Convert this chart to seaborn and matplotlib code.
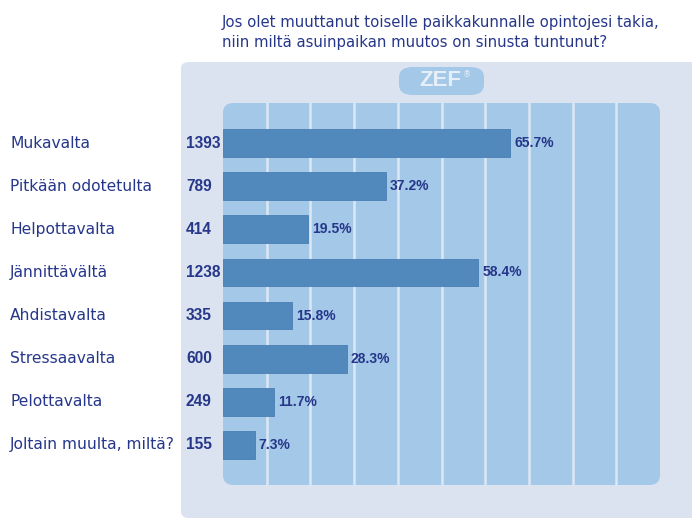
import numpy as np
import pandas as pd
import seaborn as sns
import matplotlib.pyplot as plt
from matplotlib.patches import FancyBboxPatch

# data
categories = ['Mukavalta', 'Pitkään odotetulta', 'Helpottavalta', 'Jännittävältä',
              'Ahdistavalta', 'Stressaavalta', 'Pelottavalta', 'Joltain muulta, miltä?']
counts = [1393, 789, 414, 1238, 335, 600, 249, 155]
percents = [65.7, 37.2, 19.5, 58.4, 15.8, 28.3, 11.7, 7.3]
title_lines = ['Jos olet muuttanut toiselle paikkakunnalle opintojesi takia,',
               'niin miltä asuinpaikan muutos on sinusta tuntunut?']

plt.rcParams['font.family'] = ['DejaVu Sans']
arial = ['Liberation Sans', 'DejaVu Sans']

text_col = '#26378a'
bar_col = '#5189bd'
inner_col = '#a3c8e8'
outer_col = '#dbe2f0'

df = pd.DataFrame({'category': categories, 'count': counts, 'percent': percents})

W, H = 692, 518
fig = plt.figure(figsize=(W / 100, H / 100), dpi=100)
fig.patch.set_facecolor('white')

# outer light panel
fig.patches.append(FancyBboxPatch((181 / W, 0), (W + 20 - 181) / W, (H - 62) / H,
                                  boxstyle='round,pad=0,rounding_size=0.012',
                                  transform=fig.transFigure, facecolor=outer_col,
                                  edgecolor='none', zorder=-2))
# ZEF pill
fig.patches.append(FancyBboxPatch((399 / W, (H - 95) / H), 85 / W, 28 / H,
                                  boxstyle='round,pad=0,rounding_size=0.02',
                                  transform=fig.transFigure, facecolor=inner_col,
                                  edgecolor='none', zorder=-1))
fig.text(440 / W, (H - 81) / H, 'ZEF', color='#e6eef8', fontsize=16, fontweight='bold',
         ha='center', va='center', family=arial)
fig.text(467 / W, (H - 75) / H, '®', color='#e6eef8', fontsize=6, ha='center', va='center')

ax = fig.add_axes([223 / W, (H - 485) / H, 437 / W, 382 / H])
ax.set_facecolor('none')
ax.add_patch(FancyBboxPatch((0, 0), 1, 1, boxstyle='round,pad=0,rounding_size=0.025',
                            transform=ax.transAxes, facecolor=inner_col,
                            edgecolor='none', zorder=0))

sns.barplot(data=df, x='percent', y='category', color=bar_col, width=0.65,
            saturation=1, ax=ax, zorder=3, edgecolor='#4a7fb2', linewidth=0.6)

ax.set_xlim(0, 100)
ax.set_ylim(7.94, -0.94)
for xv in range(10, 100, 10):
    ax.axvline(xv, color='#dce7f4', linewidth=1.8, zorder=1)

for sp in ax.spines.values():
    sp.set_visible(False)
ax.set_xticks([])
ax.set_yticks([])
ax.set_xlabel('')
ax.set_ylabel('')

for i, (c, p) in enumerate(zip(counts, percents)):
    ax.text(p + 0.9, i, f'{p}%', ha='left', va='center', fontsize=10, fontweight='bold',
            color=text_col, clip_on=False, family=arial)

# left labels and counts positioned in figure coordinates
for i, (cat, c) in enumerate(zip(categories, counts)):
    y_disp = ax.transData.transform((0, i))[1]
    fig.text(10 / W, y_disp / fig.bbox.height, cat, ha='left', va='center',
             fontsize=11.2, color=text_col)
    fig.text(186 / W, y_disp / fig.bbox.height, f'{c}', ha='left', va='center',
             fontsize=11.2, fontweight='bold', color=text_col, family=arial)

fig.text(222 / W, (H - 22) / H, title_lines[0], ha='left', va='center', fontsize=10.7, color=text_col)
fig.text(222 / W, (H - 42) / H, title_lines[1], ha='left', va='center', fontsize=10.7, color=text_col)

fig.savefig('out.png', dpi=100)
